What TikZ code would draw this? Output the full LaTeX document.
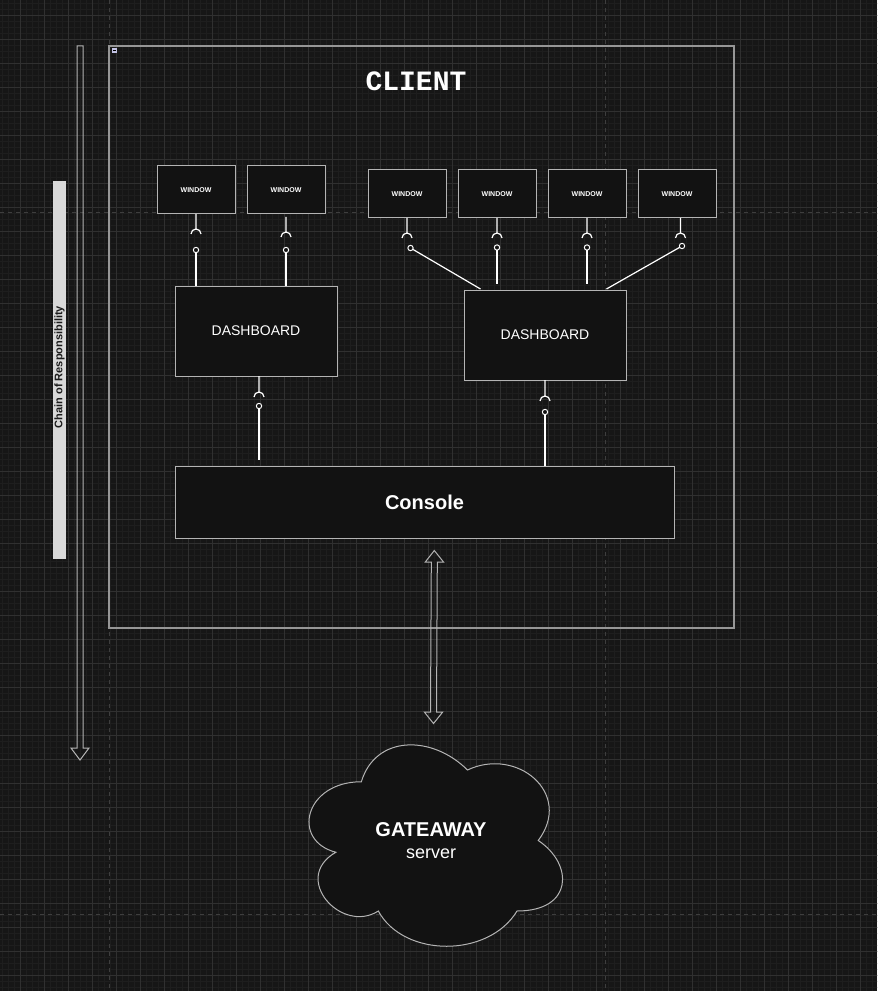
\documentclass[tikz,border=0pt]{standalone}
\usepackage{fontspec}
\setmainfont{Liberation Sans}
\newfontfamily\clientfont{Liberation Mono}
\usetikzlibrary{positioning,calc}
\definecolor{canvas}{RGB}{22,22,22}
\definecolor{boxfill}{RGB}{18,18,18}
\definecolor{gridminor}{RGB}{30,30,30}
\definecolor{gridmajor}{RGB}{48,48,48}
\definecolor{pagebreak}{RGB}{62,62,62}
\definecolor{edge}{RGB}{180,180,180}
\definecolor{frame}{RGB}{150,150,150}
\definecolor{barfill}{RGB}{217,217,217}
\definecolor{bartext}{RGB}{28,28,28}

\begin{document}
\begin{tikzpicture}[
    x=0.75pt, y=-0.75pt,
    every node/.style={outer sep=0pt, inner sep=0pt, text=white},
    winbox/.style={rectangle, draw=edge, fill=boxfill, line width=0.75pt, minimum width=58.5pt, minimum height=36pt, font=\fontsize{5.25}{6}\selectfont\bfseries},
    dashbox/.style={rectangle, draw=edge, fill=boxfill, line width=0.75pt, minimum width=121.5pt, minimum height=67.5pt, font=\fontsize{10.5}{12}\selectfont},
    ball/.style={circle, draw=white, fill=boxfill, line width=0.75pt, minimum size=4pt},
    wire/.style={draw=white, line width=0.9pt},
    socket/.style={draw=white, line width=0.9pt},
    hollow/.style={draw=edge, line width=0.75pt, line join=miter}
]
    \useasboundingbox (0,0) rectangle (877,991);
    \fill[canvas] (0,0) rectangle (877,991);
    \begin{scope}
        \clip (0,0) rectangle (877,991);
        \draw[gridminor, line width=0.5pt, step=4.5pt, shift={(20.5,15)}] (-30,1010) grid (900,-30);
        \draw[gridmajor, line width=0.6pt, step=18pt, shift={(20.5,15)}] (-30,1010) grid (900,-30);
    \end{scope}
    \draw[pagebreak, line width=0.75pt, dash pattern=on 3pt off 3pt] (109,0) -- (109,991) (605,0) -- (605,991) (0,213) -- (877,213) (0,914) -- (877,914);

    \node (client) [draw=frame, line width=0.9pt, minimum width=468.75pt, minimum height=436.5pt] at (421.5,337) {};
    \node (title) at (416,81) {\clientfont\fontsize{21}{24}\selectfont\bfseries CLIENT};
    \fill[white!85!blue!90!black] (112,48) rectangle (117,53);
    \draw[black, line width=0.4pt] (113,50.5) -- (116,50.5);

    \node (chain) [fill=barfill, rotate=90, minimum width=283.5pt, minimum height=9.75pt] at (59.5,370) {};
    \node (chainlabel) [rotate=90, text=bartext, font=\fontsize{8.25}{10}\selectfont\bfseries] at (59.5,367) {Chain of Responsibility};
    \draw[hollow] (77,46) -- (83,46) -- (83,748) -- (89,748) -- (80,760) -- (71,748) -- (77,748) -- cycle;

    \node (win1) [winbox] at (196,190) {WINDOW};
    \node (win2) [winbox, right=9pt of win1] {WINDOW};
    \node (win3) [winbox] at (407,194) {WINDOW};
    \node (win4) [winbox, right=9pt of win3] {WINDOW};
    \node (win5) [winbox, right=9pt of win4] {WINDOW};
    \node (win6) [winbox, right=9pt of win5] {WINDOW};

    \node (dashL) [dashbox] at (256,331) {DASHBOARD};
    \node (dashR) [dashbox] at (545,335) {DASHBOARD};
    \node (console) [rectangle, draw=edge, fill=boxfill, line width=0.75pt, minimum width=374.25pt, minimum height=54pt, font=\fontsize{15}{18}\selectfont\bfseries] at (424.5,502) {Console};

    \draw[socket] (win1.south) -- ++(0,15) ++(-5,5) arc[start angle=180, end angle=0, radius=3.75pt];
    \draw[socket] ($(win2.south)+(0,3)$) -- ++(0,15) ++(-5,5) arc[start angle=180, end angle=0, radius=3.75pt];
    \draw[socket] (win3.south) -- ++(0,15) ++(-5,5) arc[start angle=180, end angle=0, radius=3.75pt];
    \draw[socket] (win4.south) -- ++(0,15) ++(-5,5) arc[start angle=180, end angle=0, radius=3.75pt];
    \draw[socket] (win5.south) -- ++(0,15) ++(-5,5) arc[start angle=180, end angle=0, radius=3.75pt];
    \draw[socket] ($(win6.south)+(3.5,0)$) -- ++(0,15) ++(-5,5) arc[start angle=180, end angle=0, radius=3.75pt];
    \draw[socket] ($(dashL.south)+(3,0)$) -- ++(0,16) ++(-5,5) arc[start angle=180, end angle=0, radius=3.75pt];
    \draw[socket] (dashR.south) -- ++(0,16) ++(-5,5) arc[start angle=180, end angle=0, radius=3.75pt];

    \node (ball1) [ball] at ($(win1.south)+(0,36)$) {};
    \node (ball2) [ball] at ($(win2.south)+(0,36)$) {};
    \node (ball3) [ball] at ($(win3.south)+(3.5,30)$) {};
    \node (ball4) [ball] at ($(win4.south)+(0,29.5)$) {};
    \node (ball5) [ball] at ($(win5.south)+(0,29.5)$) {};
    \node (ball6) [ball] at ($(win6.south)+(5,28)$) {};
    \node (ball7) [ball] at ($(dashL.south)+(3,30)$) {};
    \node (ball8) [ball] at ($(dashR.south)+(0,32)$) {};

    \draw[wire] (ball1) -- (ball1 |- dashL.north);
    \draw[wire] (ball2) -- (ball2 |- dashL.north);
    \draw[wire] (ball3) -- ($(dashR.north west)+(16.5,-1)$);
    \draw[wire, shorten >=4.5pt] (ball4) -- (ball4 |- dashR.north);
    \draw[wire, shorten >=4.5pt] (ball5) -- (ball5 |- dashR.north);
    \draw[wire] (ball6) -- ($(dashR.north east)+(-19.5,-1)$);
    \draw[wire, shorten >=4.5pt] (ball7) -- (ball7 |- console.north);
    \draw[wire] (ball8) -- (ball8 |- console.north);

    \draw[hollow] (434.3,550.5) -- (443.5,562) -- (437.3,562) -- (436.5,712) -- (442.7,712) -- (433.5,723.5) -- (424.3,712) -- (430.5,712) -- (431.3,562) -- (425.3,562) -- cycle;

    \filldraw[fill=boxfill, draw=edge, line width=0.75pt, shift={(290.6,723)}, xscale=283, yscale=235]
        (0.25,0.25) .. controls (0.05,0.25) and (0,0.5) .. (0.16,0.55)
        .. controls (0,0.66) and (0.18,0.9) .. (0.31,0.8)
        .. controls (0.4,1) and (0.7,1) .. (0.8,0.8)
        .. controls (1,0.8) and (1,0.6) .. (0.875,0.5)
        .. controls (1,0.3) and (0.8,0.1) .. (0.625,0.2)
        .. controls (0.5,0.05) and (0.3,0.05) .. (0.25,0.25) -- cycle;
    \node (gateway) [font=\fontsize{15}{18}\selectfont\bfseries] at (431,830) {GATEAWAY};
    \node (server) [below=9pt of gateway, font=\fontsize{13.5}{16}\selectfont] {server};
\end{tikzpicture}
\end{document}
